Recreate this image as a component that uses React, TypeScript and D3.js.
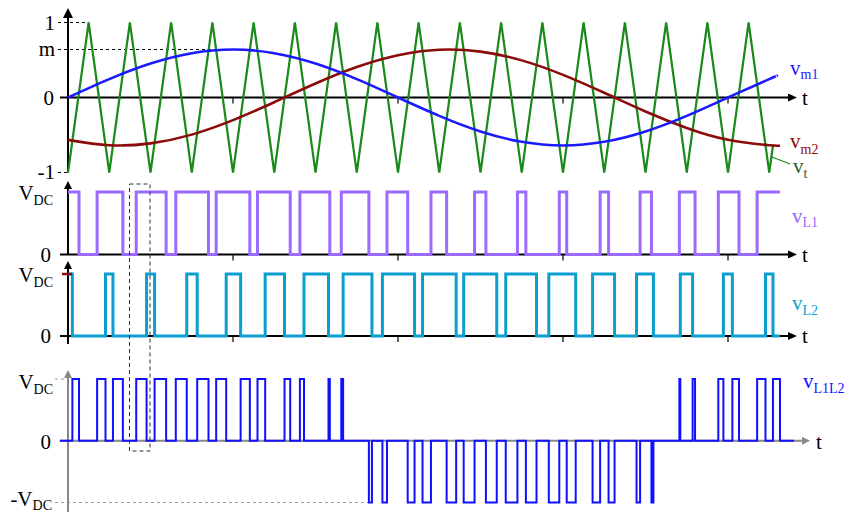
import React from 'react';
import * as d3 from 'd3';

// Carrier (triangle) vertices: time in carrier periods, value in p.u.
const carrierT = [0, 0.5, 1, 1.5, 2, 2.5, 3, 3.5, 4, 4.5, 5, 5.5, 6, 6.5, 7, 7.5, 8, 8.5, 9, 9.5, 10, 10.5, 11, 11.5, 12, 12.5, 13, 13.5, 14, 14.5, 15, 15.5, 16, 16.5, 17, 17.09];
const carrierV = [-1, 1, -1, 1, -1, 1, -1, 1, -1, 1, -1, 1, -1, 1, -1, 1, -1, 1, -1, 1, -1, 1, -1, 1, -1, 1, -1, 1, -1, 1, -1, 1, -1, 1, -1, -0.64];

// Modulating signals
const vm1T = [0, 1, 2, 3, 4, 5, 6, 7, 8, 9, 10, 11, 12, 13, 14, 15, 16, 17, 17.18];
const vm1V = [0, 0.245, 0.453, 0.591, 0.64, 0.591, 0.453, 0.245, 0, -0.245, -0.453, -0.591, -0.64, -0.591, -0.453, -0.245, 0, 0.245, 0.287];
const vm2T = [0, 1, 2, 3, 4, 5, 6, 7, 8, 9, 10, 11, 12, 13, 14, 15, 16, 17, 17.26];
const vm2V = [-0.565, -0.637, -0.612, -0.495, -0.302, -0.063, 0.186, 0.406, 0.564, 0.637, 0.612, 0.495, 0.302, 0.063, -0.186, -0.406, -0.564, -0.637, -0.64];

// Switching instants (start high)
const vL1Edges = [0.267, 0.706, 1.330, 1.654, 2.379, 2.613, 3.406, 3.592, 4.408, 4.594, 5.387, 5.622, 6.347, 6.625, 7.294, 7.733, 8.235, 8.799, 9.179, 9.856, 10.131, 10.895, 11.100, 11.910, 12.090, 12.900, 13.105, 13.869, 14.144, 14.821, 15.201, 15.765, 16.267, 16.706];
const vL2Edges = [0.106, 0.909, 1.090, 1.905, 2.099, 2.879, 3.132, 3.835, 4.185, 4.780, 5.249, 5.721, 6.315, 6.670, 7.368, 7.622, 8.401, 8.595, 9.410, 9.592, 10.394, 10.612, 11.358, 11.656, 12.308, 12.717, 13.250, 13.783, 14.192, 14.844, 15.142, 15.888, 16.106, 16.909, 17.090];
const signalEnd = 17.26;
const mValue = 0.64;
const periodTicks = [4, 8, 12, 16];

const FONT = '"Liberation Serif", "Times New Roman", serif';
const C_CARRIER = '#1a8a1a';
const C_VM1 = '#1a1aff';
const C_VM2 = '#8b0a0a';
const C_L1 = '#9b6bff';
const C_L2 = '#0a9fcf';
const C_L1L2 = '#1010ff';

const x = d3.scaleLinear().domain([0, 16]).range([68, 728]);
const yTop = d3.scaleLinear().domain([-1, 1]).range([172.5, 22.5]);
const yL1 = d3.scaleLinear().domain([0, 1]).range([254.5, 192]);
const yL2 = d3.scaleLinear().domain([0, 1]).range([336, 274]);
const yB = d3.scaleLinear().domain([-1, 1]).range([502.5, 379]);

function stepPoints(edges: number[], init: number, end: number): [number, number][] {
  const pts: [number, number][] = [[0, init]];
  let s = init;
  for (const e of edges) {
    s = 1 - s;
    pts.push([e, s]);
  }
  pts.push([end, s]);
  return pts;
}
function levelAt(edges: number[], init: number, t: number) {
  const n = edges.filter((e) => e <= t).length;
  return n % 2 === 0 ? init : 1 - init;
}

export default function App() {
  const topLine = d3.line<[number, number]>().x((d) => x(d[0])).y((d) => yTop(d[1]));
  const smooth = d3.line<[number, number]>().x((d) => x(d[0])).y((d) => yTop(d[1])).curve(d3.curveNatural);
  const carrierPath = topLine(carrierT.map((t, i) => [t, carrierV[i]]))!;
  const vm1Path = smooth(vm1T.map((t, i) => [t, vm1V[i]]))!;
  const vm2Path = smooth(vm2T.map((t, i) => [t, vm2V[i]]))!;

  const l1Path = d3.line<[number, number]>().x((d) => x(d[0])).y((d) => yL1(d[1])).curve(d3.curveStepAfter)(stepPoints(vL1Edges, 1, signalEnd))!;
  const l2Path = d3.line<[number, number]>().x((d) => x(d[0])).y((d) => yL2(d[1])).curve(d3.curveStepAfter)(stepPoints(vL2Edges, 1, signalEnd))!;

  const allEdges = Array.from(new Set([...vL1Edges, ...vL2Edges])).sort((a, b) => a - b);
  const diffPts: [number, number][] = [[-0.2, 0], [0, 0]];
  for (const t of allEdges) diffPts.push([t, levelAt(vL1Edges, 1, t) - levelAt(vL2Edges, 1, t)]);
  diffPts.push([signalEnd, 0]);
  diffPts.push([17.6, 0]);
  const diffPath = d3.line<[number, number]>().x((d) => x(d[0])).y((d) => yB(d[1])).curve(d3.curveStepAfter)(diffPts)!;
  const firstNeg = diffPts.find((p) => p[1] < 0)![0];

  const ax = 68;
  const arrowR = (xe: number, y: number, c: string, len = 9, w = 4) => (
    <polygon points={`${xe},${y} ${xe - len},${y - w} ${xe - len},${y + w}`} fill={c} />
  );
  const arrowU = (xc: number, ye: number, c: string, len = 9, w = 5) => (
    <polygon points={`${xc},${ye} ${xc - w},${ye + len} ${xc + w},${ye + len}`} fill={c} />
  );

  const lbl = (tx: number, ty: number, main: string, sub: string | null, color = '#000', anchor: 'start' | 'end' = 'end', size = 21, subSize = 14, dy = 5) => (
    <text x={tx} y={ty} fill={color} fontFamily={FONT} fontSize={size} textAnchor={anchor}>
      {main}
      {sub && <tspan fontSize={subSize} dy={dy}>{sub}</tspan>}
    </text>
  );

  return (
    <svg width={846} height={515} style={{ position: 'absolute', left: 0, top: 0, background: '#fff' }}>
      <rect width={846} height={515} fill="#fff" />
      {/* ---------- Top panel ---------- */}
      <line x1={58} x2={x(0.5)} y1={yTop(1)} y2={yTop(1)} stroke="#000" strokeWidth={1} strokeDasharray="3,3" />
      <line x1={58} x2={x(4)} y1={yTop(mValue)} y2={yTop(mValue)} stroke="#000" strokeWidth={1} strokeDasharray="3,3" />
      <line x1={58} x2={ax} y1={yTop(-1)} y2={yTop(-1)} stroke="#000" strokeWidth={1} strokeDasharray="3,3" />
      <line x1={60} x2={790} y1={yTop(0)} y2={yTop(0)} stroke="#000" strokeWidth={2} />
      {arrowR(797, yTop(0), '#000')}
      {periodTicks.map((t) => (
        <line key={t} x1={x(t)} x2={x(t)} y1={yTop(0)} y2={yTop(0) + 6} stroke="#000" strokeWidth={1.2} />
      ))}
      <line x1={ax} x2={ax} y1={yTop(-1)} y2={16} stroke="#000" strokeWidth={2} />
      {arrowU(ax, 8, '#000', 10, 5)}
      <path d={carrierPath} fill="none" stroke={C_CARRIER} strokeWidth={2.2} strokeLinejoin="miter" />
      <path d={vm2Path} fill="none" stroke={C_VM2} strokeWidth={2.6} />
      <path d={vm1Path} fill="none" stroke={C_VM1} strokeWidth={2.6} />
      {lbl(55, yTop(1) + 7.5, '1', null)}
      {lbl(55, yTop(mValue) + 6, 'm', null)}
      {lbl(54, yTop(0) + 7.5, '0', null)}
      {lbl(55, yTop(-1) + 6, '-1', null)}
      {lbl(802, yTop(0) + 7.5, 't', null, '#000', 'start')}
      {lbl(790, 75, 'v', 'm1', C_VM1, 'start', 21, 14, 4)}
      {lbl(790, 148, 'v', 'm2', C_VM2, 'start', 21, 14, 6)}
      <line x1={772} y1={157} x2={790} y2={164} stroke={C_CARRIER} strokeWidth={1.2} />
      {lbl(793, 173, 'v', 't', '#2a5a2a', 'start', 21, 14, 5)}

      {/* ---------- vL1 panel ---------- */}
      <line x1={60} x2={790} y1={yL1(0)} y2={yL1(0)} stroke="#000" strokeWidth={2} />
      {arrowR(797, yL1(0), '#000')}
      {periodTicks.map((t) => (
        <line key={t} x1={x(t)} x2={x(t)} y1={yL1(0)} y2={yL1(0) + 6} stroke="#000" strokeWidth={1.2} />
      ))}
      <line x1={ax} x2={ax} y1={yL1(0)} y2={188} stroke="#000" strokeWidth={2} />
      {arrowU(ax, 181, '#000', 8, 4)}
      <path d={l1Path} fill="none" stroke={C_L1} strokeWidth={3} />
      {lbl(53, yL1(1) + 8, 'V', 'DC')}
      {lbl(51, yL1(0) + 7, '0', null)}
      {lbl(802, yL1(0) + 7, 't', null, '#000', 'start')}
      {lbl(792, 223, 'v', 'L1', C_L1, 'start', 21, 14, 4)}

      {/* ---------- vL2 panel ---------- */}
      <line x1={60} x2={790} y1={yL2(0)} y2={yL2(0)} stroke="#000" strokeWidth={2} />
      {arrowR(797, yL2(0), '#000')}
      {periodTicks.map((t) => (
        <line key={t} x1={x(t)} x2={x(t)} y1={yL2(0)} y2={yL2(0) + 6} stroke="#000" strokeWidth={1.2} />
      ))}
      <line x1={ax} x2={ax} y1={344} y2={268} stroke="#000" strokeWidth={2} />
      {arrowU(ax, 261, '#000', 8, 4)}
      <path d={l2Path} fill="none" stroke={C_L2} strokeWidth={3} />
      <line x1={62} x2={72} y1={yL2(1)} y2={yL2(1)} stroke={C_VM2} strokeWidth={2.5} />
      {lbl(53, yL2(1) + 8, 'V', 'DC')}
      {lbl(51, yL2(0) + 7, '0', null)}
      {lbl(802, yL2(0) + 7, 't', null, '#000', 'start')}
      {lbl(792, 310, 'v', 'L2', C_L2, 'start', 21, 14, 5)}

      {/* ---------- vL1L2 panel ---------- */}
      <line x1={55} x2={ax} y1={yB(1)} y2={yB(1)} stroke="#999" strokeWidth={1} strokeDasharray="3,3" />
      <line x1={55} x2={x(firstNeg)} y1={yB(-1)} y2={yB(-1)} stroke="#999" strokeWidth={1} strokeDasharray="3,3" />
      <line x1={60} x2={804} y1={yB(0)} y2={yB(0)} stroke="#888" strokeWidth={2} />
      {arrowR(810, yB(0), '#888', 8, 4)}
      <line x1={ax} x2={ax} y1={512} y2={376} stroke="#888" strokeWidth={2} />
      {arrowU(ax, 370, '#888', 8, 4)}
      <path d={diffPath} fill="none" stroke={C_L1L2} strokeWidth={2} />
      {lbl(53, yB(1) + 10, 'V', 'DC')}
      {lbl(51, yB(0) + 8, '0', null)}
      {lbl(52, 506, '-V', 'DC', '#000', 'end', 21, 14, 4)}
      {lbl(816, yB(0) + 8, 't', null, '#000', 'start')}
      {lbl(803, 388, 'v', 'L1L2', C_L1L2, 'start', 21, 14, 5)}

      {/* highlight box */}
      <rect x={129.5} y={184} width={20.5} height={267} fill="none" stroke="#333" strokeWidth={1} strokeDasharray="4,3" />
    </svg>
  );
}
